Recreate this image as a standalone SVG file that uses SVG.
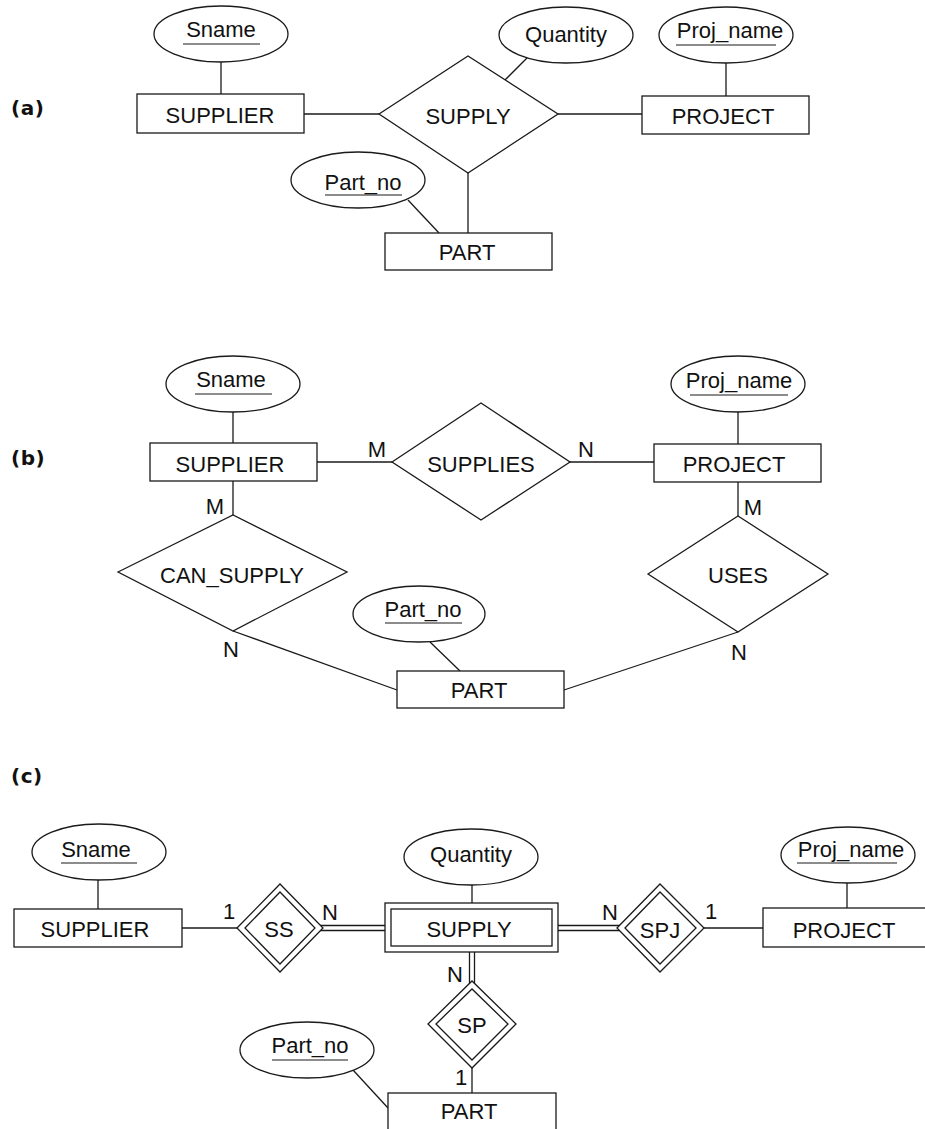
<svg xmlns="http://www.w3.org/2000/svg" width="925" height="1129" viewBox="0 0 925 1129">
  <style>
    .ent, .attr, .rel { fill: #ffffff; stroke: #1a1a1a; stroke-width: 1.3; }
    .ln { stroke: #1a1a1a; stroke-width: 1.3; fill: none; }
    .ul { stroke: #1a1a1a; stroke-width: 1.2; }
    text { font-family: "Liberation Sans", Arial, Helvetica, sans-serif; font-size: 22px; fill: #111111; }
    .t { text-anchor: middle; }
    .card { text-anchor: middle; }
    .sec { font-family: "DejaVu Sans", "Liberation Sans", sans-serif; font-weight: bold; font-size: 20px; letter-spacing: 0.5px; }
  </style>
  <rect width="925" height="1129" fill="#ffffff"/>

  <!-- ===== (a) ternary relationship ===== -->
  <text class="sec" x="11" y="115">(a)</text>
  <g id="a-connectors">
    <line class="ln" x1="221" y1="62" x2="221" y2="94"/>
    <line class="ln" x1="304" y1="114" x2="379" y2="114"/>
    <line class="ln" x1="558" y1="114" x2="642" y2="114"/>
    <line class="ln" x1="726" y1="63" x2="726" y2="96"/>
    <line class="ln" x1="505" y1="80" x2="527" y2="58"/>
    <line class="ln" x1="468" y1="173" x2="468" y2="233"/>
    <line class="ln" x1="408" y1="200" x2="439" y2="233"/>
  </g>
  <g id="a-sname">
    <ellipse class="attr" cx="221" cy="34" rx="67" ry="28"/>
    <text class="t" x="221" y="37">Sname</text>
    <line class="ul" x1="183" y1="44" x2="260" y2="44"/>
  </g>
  <g id="a-quantity">
    <ellipse class="attr" cx="566" cy="35" rx="67" ry="28"/>
    <text class="t" x="566" y="42">Quantity</text>
  </g>
  <g id="a-projname">
    <ellipse class="attr" cx="726" cy="35" rx="67" ry="28"/>
    <text class="t" x="730" y="38">Proj_name</text>
    <line class="ul" x1="676" y1="45" x2="776" y2="45"/>
  </g>
  <g id="a-supplier">
    <rect class="ent" x="137" y="94" width="167" height="39"/>
    <text class="t" x="220" y="123">SUPPLIER</text>
  </g>
  <g id="a-supply">
    <polygon class="rel" points="379,114 468,56 558,114 468,173"/>
    <text class="t" x="468" y="124">SUPPLY</text>
  </g>
  <g id="a-project">
    <rect class="ent" x="642" y="96" width="167" height="38"/>
    <text class="t" x="723" y="124">PROJECT</text>
  </g>
  <g id="a-part">
    <rect class="ent" x="385" y="233" width="167" height="37"/>
    <text class="t" x="467" y="260">PART</text>
  </g>
  <g id="a-partno">
    <ellipse class="attr" cx="358" cy="180" rx="67" ry="28"/>
    <text class="t" x="363" y="190">Part_no</text>
    <line class="ul" x1="325" y1="195" x2="402" y2="195"/>
  </g>

  <!-- ===== (b) three binary relationships ===== -->
  <text class="sec" x="11" y="465">(b)</text>
  <g id="b-connectors">
    <line class="ln" x1="233" y1="412" x2="233" y2="443"/>
    <line class="ln" x1="317" y1="462" x2="392" y2="462"/>
    <line class="ln" x1="570" y1="462" x2="654" y2="462"/>
    <line class="ln" x1="738" y1="412" x2="738" y2="444"/>
    <line class="ln" x1="233" y1="481" x2="233" y2="515"/>
    <line class="ln" x1="738" y1="482" x2="738" y2="516"/>
    <line class="ln" x1="233" y1="631" x2="397" y2="690"/>
    <line class="ln" x1="738" y1="632" x2="564" y2="690"/>
    <line class="ln" x1="430" y1="642" x2="460" y2="671"/>
    <text class="card" x="377" y="457">M</text>
    <text class="card" x="586" y="457">N</text>
    <text class="card" x="215" y="514">M</text>
    <text class="card" x="753" y="515">M</text>
    <text class="card" x="231" y="657">N</text>
    <text class="card" x="739" y="660">N</text>
  </g>
  <g id="b-sname">
    <ellipse class="attr" cx="233" cy="384" rx="67" ry="28"/>
    <text class="t" x="231" y="387">Sname</text>
    <line class="ul" x1="195" y1="394" x2="272" y2="394"/>
  </g>
  <g id="b-supplier">
    <rect class="ent" x="150" y="443" width="167" height="38"/>
    <text class="t" x="230" y="472">SUPPLIER</text>
  </g>
  <g id="b-supplies">
    <polygon class="rel" points="392,462 481,403 570,462 481,520"/>
    <text class="t" x="481" y="472">SUPPLIES</text>
  </g>
  <g id="b-project">
    <rect class="ent" x="654" y="444" width="167" height="38"/>
    <text class="t" x="734" y="472">PROJECT</text>
  </g>
  <g id="b-projname">
    <ellipse class="attr" cx="738" cy="384" rx="67" ry="28"/>
    <text class="t" x="739" y="388">Proj_name</text>
    <line class="ul" x1="690" y1="395" x2="788" y2="395"/>
  </g>
  <g id="b-cansupply">
    <polygon class="rel" points="118,572 233,515 347,572 233,631"/>
    <text class="t" x="232" y="583">CAN_SUPPLY</text>
  </g>
  <g id="b-uses">
    <polygon class="rel" points="648,574 738,516 828,574 738,632"/>
    <text class="t" x="738" y="583">USES</text>
  </g>
  <g id="b-part">
    <rect class="ent" x="397" y="671" width="167" height="37"/>
    <text class="t" x="479" y="698">PART</text>
  </g>
  <g id="b-partno">
    <ellipse class="attr" cx="419" cy="614" rx="66" ry="28"/>
    <text class="t" x="423" y="617">Part_no</text>
    <line class="ul" x1="385" y1="623" x2="462" y2="623"/>
  </g>

  <!-- ===== (c) SUPPLY as a weak entity type ===== -->
  <text class="sec" x="11" y="783">(c)</text>
  <g id="c-connectors">
    <line class="ln" x1="98" y1="880" x2="98" y2="909"/>
    <line class="ln" x1="182" y1="928" x2="237" y2="928"/>
    <line class="ln" x1="320" y1="925.5" x2="385" y2="925.5"/>
    <line class="ln" x1="320" y1="930.5" x2="385" y2="930.5"/>
    <line class="ln" x1="472" y1="885" x2="472" y2="903"/>
    <line class="ln" x1="558" y1="925.5" x2="620" y2="925.5"/>
    <line class="ln" x1="558" y1="930.5" x2="620" y2="930.5"/>
    <line class="ln" x1="704" y1="928" x2="763" y2="928"/>
    <line class="ln" x1="847" y1="883" x2="847" y2="908"/>
    <line class="ln" x1="469.5" y1="952" x2="469.5" y2="984"/>
    <line class="ln" x1="474.5" y1="952" x2="474.5" y2="984"/>
    <line class="ln" x1="472" y1="1068" x2="472" y2="1093"/>
    <line class="ln" x1="353" y1="1070" x2="388" y2="1108"/>
    <text class="card" x="229" y="919">1</text>
    <text class="card" x="330" y="920">N</text>
    <text class="card" x="610" y="920">N</text>
    <text class="card" x="711" y="919">1</text>
    <text class="card" x="455" y="982">N</text>
    <text class="card" x="461" y="1085">1</text>
  </g>
  <g id="c-sname">
    <ellipse class="attr" cx="99" cy="852" rx="67" ry="28"/>
    <text class="t" x="96" y="857">Sname</text>
    <line class="ul" x1="61" y1="863" x2="137" y2="863"/>
  </g>
  <g id="c-supplier">
    <rect class="ent" x="14" y="909" width="168" height="38"/>
    <text class="t" x="95" y="937">SUPPLIER</text>
  </g>
  <g id="c-ss">
    <polygon class="rel" points="237,928 280,884 323,928 280,972"/>
    <polygon class="rel" points="245,928 280,892 315,928 280,964"/>
    <text class="t" x="279" y="937">SS</text>
  </g>
  <g id="c-supply">
    <rect class="ent" x="385" y="903" width="173" height="49"/>
    <rect class="ent" x="391" y="909" width="161" height="37"/>
    <text class="t" x="469" y="937">SUPPLY</text>
  </g>
  <g id="c-quantity">
    <ellipse class="attr" cx="471" cy="857" rx="67" ry="28"/>
    <text class="t" x="471" y="862">Quantity</text>
  </g>
  <g id="c-spj">
    <polygon class="rel" points="617,928 660,884 704,928 660,972"/>
    <polygon class="rel" points="625,928 660,892 696,928 660,964"/>
    <text class="t" x="660" y="938">SPJ</text>
  </g>
  <g id="c-project">
    <rect class="ent" x="763" y="908" width="180" height="39"/>
    <text class="t" x="844" y="938">PROJECT</text>
  </g>
  <g id="c-projname">
    <ellipse class="attr" cx="848" cy="855" rx="67" ry="28"/>
    <text class="t" x="851" y="857">Proj_name</text>
    <line class="ul" x1="797" y1="863" x2="897" y2="863"/>
  </g>
  <g id="c-sp">
    <polygon class="rel" points="428,1024 472,981 516,1024 472,1068"/>
    <polygon class="rel" points="436,1024 472,989 508,1024 472,1060"/>
    <text class="t" x="472" y="1033">SP</text>
  </g>
  <g id="c-part">
    <rect class="ent" x="388" y="1093" width="168" height="45"/>
    <text class="t" x="469" y="1119">PART</text>
  </g>
  <g id="c-partno">
    <ellipse class="attr" cx="307" cy="1050" rx="67" ry="28"/>
    <text class="t" x="310" y="1053">Part_no</text>
    <line class="ul" x1="272" y1="1060" x2="348" y2="1060"/>
  </g>
</svg>
